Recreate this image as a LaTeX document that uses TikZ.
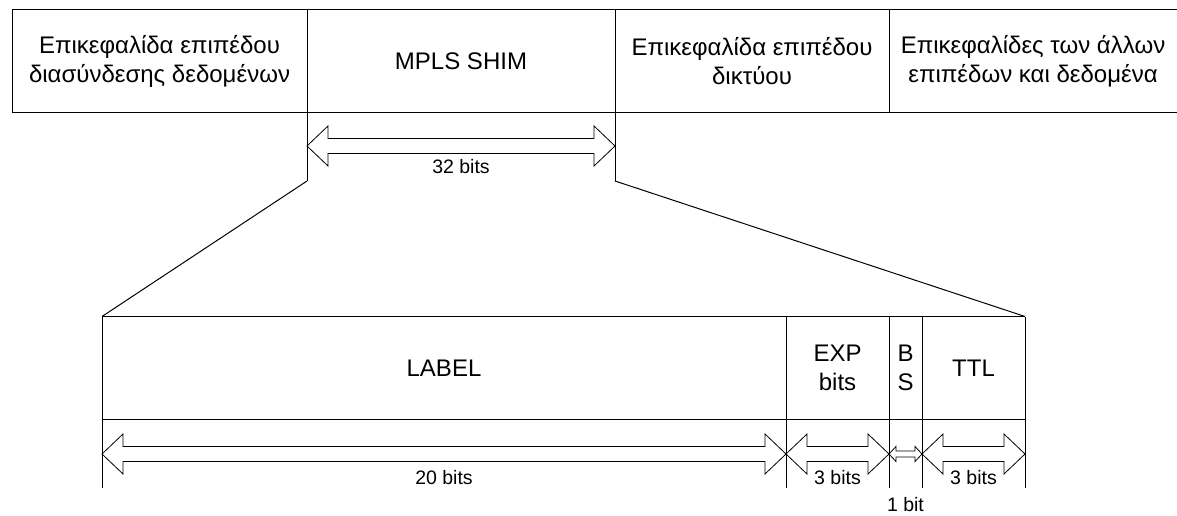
\documentclass[tikz,border=0pt]{standalone}
\usepackage{fontspec}
\setmainfont{Liberation Sans}
\tikzset{
  frame/.style={line width=1pt, draw=black},
  hollow/.style={line width=0.8pt, draw=black, fill=white, line join=miter},
  bigtext/.style={font=\fontsize{24}{29}\selectfont, align=center, inner sep=0pt},
  smalltext/.style={font=\fontsize{19.5}{23}\selectfont, inner sep=0pt},
}
% hollow double-headed arrow: x-from, x-to, y, half shaft, half head, head length
\newcommand\spanarrow[6]{%
  \draw[hollow] (#1,#3) -- (#1+#6,#3-#5) -- (#1+#6,#3-#4) -- (#2-#6,#3-#4)
    -- (#2-#6,#3-#5) -- (#2,#3) -- (#2-#6,#3+#5) -- (#2-#6,#3+#4)
    -- (#1+#6,#3+#4) -- (#1+#6,#3+#5) -- cycle;}
\begin{document}
\begin{tikzpicture}[x=1pt, y=-1pt]
\useasboundingbox (0,0) rectangle (1177,516);

% ---- packet headers row ----
\coordinate (rowNW) at (12,9.5);
\coordinate (rowSW) at (12,112.5);
\draw[frame] (1177,9.5) -- (rowNW) -- (rowSW) -- (1177,112.5);
\draw[frame] (307,9.5) -- (307,181);
\draw[frame] (615,9.5) -- (615,181);
\draw[frame] (889,9.5) -- (889,112.5);
\coordinate (shimL) at (307,181);
\coordinate (shimR) at (615,181);

\node[bigtext] (link) at (159.5,61) {Επικεφαλίδα επιπέδου\\διασύνδεσης δεδομένων};
\node[bigtext] (shim) at (461,61) {MPLS SHIM};
\node[bigtext] (net)  at (752,61) {Επικεφαλίδα επιπέδου\\δικτύου};
\node[bigtext] (rest) at (1033,61) {Επικεφαλίδες των άλλων\\επιπέδων και δεδομένα};

\spanarrow{307}{615}{146}{7.5}{20}{21}
\node[smalltext] (w32) at (461,167) {32 bits};

% ---- expanded shim fields ----
\coordinate (fNW) at (102,316.5);
\coordinate (fNE) at (1025,316.5);
\draw[frame] (shimL) -- (fNW);
\draw[frame] (shimR) -- (fNE);
\draw[frame] (fNW) -- (fNE);
\draw[frame] (102,419.5) -- (1025,419.5);
\foreach \xx in {102,786,889,922,1025}
  \draw[frame] (\xx,316.5) -- (\xx,488);

\node[bigtext] (label) at (444,368) {LABEL};
\node[bigtext] (exp)   at (837.5,368) {EXP\\bits};
\node[bigtext] (bos)   at (905.5,368) {B\\S};
\node[bigtext] (ttl)   at (973.5,368) {TTL};

\spanarrow{102}{786}{454}{7.5}{20}{21}
\spanarrow{786}{889}{454}{7.5}{20}{21}
\spanarrow{889}{922}{454}{3}{7.5}{7}
\spanarrow{922}{1025}{454}{7.5}{20}{21}

\node[smalltext] (w20)  at (444,478) {20 bits};
\node[smalltext] (w3a)  at (837.5,478) {3 bits};
\node[smalltext] (w1)   at (905.5,505) {1 bit};
\node[smalltext] (w3b)  at (973.5,478) {3 bits};
\end{tikzpicture}
\end{document}
